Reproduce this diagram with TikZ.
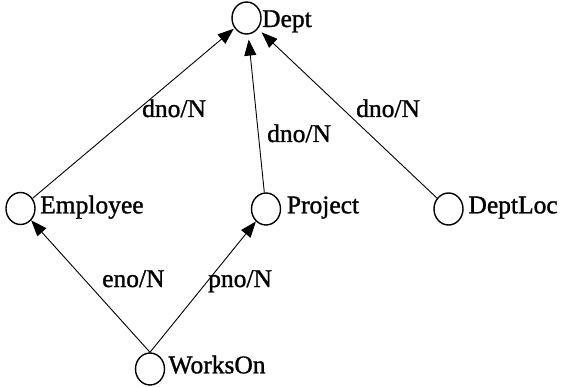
\documentclass[tikz,border=0pt]{standalone}
\usepackage{fontspec}
\setmainfont[FakeBold=1.2]{Liberation Serif}
\usetikzlibrary{arrows.meta,shapes.geometric}
\begin{document}
\begin{tikzpicture}[x=1pt,y=1pt,
  ent/.style={draw,line width=1.4pt,ellipse,minimum width=29pt,minimum height=32pt,inner sep=0pt},
  txt/.style={anchor=base west,inner sep=0pt,font=\fontsize{25.5pt}{30pt}\selectfont},
  arr/.style={line width=0.9pt,-{Triangle[length=16pt,width=12pt]}}]
\useasboundingbox (0,0) rectangle (562,386);
\node[ent] (dept) at (246.5,368) {};
\node[ent] (emp) at (20.5,177.5) {};
\node[ent] (proj) at (266,177) {};
\node[ent] (dloc) at (448.5,177) {};
\node[ent] (wo) at (150,17) {};
\node[txt] (tdept) at (262,359) {Dept};
\node[txt] (temp) at (40,172.7) {Employee};
\node[txt] (tproj) at (286.7,172.7) {Project};
\node[txt] (tdloc) at (468.3,172.7) {DeptLoc};
\node[txt] (two) at (168.3,12.7) {WorksOn};
\node[txt] (l1) at (142,269) {dno/N};
\node[txt] (l2) at (267,244) {dno/N};
\node[txt] (l3) at (356,269) {dno/N};
\node[txt] (l4) at (102,99) {eno/N};
\node[txt] (l5) at (208,99) {pno/N};
\draw[arr,shorten >=1pt] (emp) -- (dept);
\draw[arr,shorten >=5pt] (proj) -- (dept);
\draw[arr,shorten >=5pt] (dloc) -- (dept);
\draw[arr] (wo.north) -- (emp);
\draw[arr] (wo.north) -- (proj);
\end{tikzpicture}
\end{document}
